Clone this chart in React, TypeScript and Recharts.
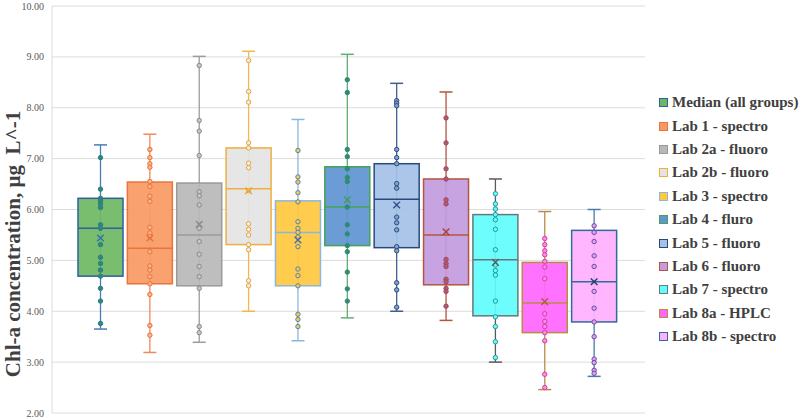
import React from 'react';
import { ComposedChart, Bar, XAxis, YAxis, CartesianGrid, Legend } from 'recharts';

const labs = [
  'Median (all groups)',
  'Lab 1 - spectro',
  'Lab 2a - fluoro',
  'Lab 2b - fluoro',
  'Lab 3 - spectro',
  'Lab 4 - fluro',
  'Lab 5 - fluoro',
  'Lab 6 - fluoro',
  'Lab 7 - spectro',
  'Lab 8a - HPLC',
  'Lab 8b - spectro',
];

const whiskerMin = [3.65, 3.19, 3.39, 4.0, 3.42, 3.87, 4.0, 3.82, 3.0, 2.46, 2.72];
const q1 = [4.69, 4.54, 4.5, 5.31, 4.5, 5.29, 5.25, 4.52, 3.91, 3.58, 3.79];
const medians = [5.63, 5.24, 5.5, 6.41, 5.55, 6.05, 6.2, 5.5, 5.01, 4.16, 4.58];
const q3 = [6.22, 6.54, 6.52, 7.21, 6.17, 6.84, 6.9, 6.6, 5.9, 4.96, 5.59];
const whiskerMax = [7.27, 7.48, 9.01, 9.11, 7.77, 9.05, 8.48, 8.31, 6.6, 5.96, 6.0];
const means = [5.44, 5.44, 5.71, 6.37, 5.4, 6.19, 6.09, 5.56, 4.96, 4.19, 4.58];

const pointsMedian = [7.02, 6.4, 6.22, 6.17, 6.11, 6.04, 5.7, 5.63, 5.31, 5.06, 4.94, 4.81, 4.69, 4.45, 4.2, 3.76];
const pointsLab1 = [7.18, 7.02, 6.9, 6.83, 6.55, 6.45, 6.26, 6.16, 5.65, 5.54, 5.47, 5.17, 4.89, 4.81, 4.68, 4.54, 4.33, 3.72, 3.53];
const pointsLab2a = [8.83, 7.75, 7.54, 7.06, 6.35, 6.27, 6.09, 5.63, 5.37, 5.12, 4.88, 4.68, 4.45, 3.7, 3.58];
const pointsLab2b = [8.93, 8.32, 8.11, 7.31, 7.21, 6.91, 6.82, 6.37, 5.72, 5.61, 5.5, 5.31, 5.21, 4.6, 4.5];
const pointsLab3 = [7.16, 6.64, 6.54, 6.33, 6.15, 5.76, 5.63, 5.55, 5.46, 5.27, 4.83, 4.7, 4.5, 3.94, 3.84, 3.7];
const pointsLab4 = [8.55, 8.3, 7.18, 7.04, 6.8, 6.63, 6.55, 6.05, 5.7, 5.52, 5.29, 5.17, 4.77, 4.44, 4.2];
const pointsLab5 = [8.14, 8.09, 8.04, 7.18, 7.02, 6.9, 6.51, 6.42, 5.85, 5.74, 5.6, 5.27, 5.19, 4.56, 4.42, 4.08];
const pointsLab6 = [7.8, 7.31, 6.8, 6.6, 6.19, 6.11, 5.02, 4.94, 4.88, 4.63, 4.58, 4.45, 4.39, 4.1];
const pointsLab7 = [6.31, 6.11, 6.01, 5.9, 5.8, 5.61, 5.21, 4.91, 4.8, 4.71, 4.2, 3.89, 3.7, 3.4, 3.09];
const pointsLab8a = [5.43, 5.31, 5.19, 5.11, 4.98, 4.87, 4.64, 3.95, 3.8, 3.7, 3.58, 3.42, 2.76, 2.5];
const pointsLab8b = [5.68, 5.55, 5.37, 5.09, 4.88, 4.39, 4.06, 3.79, 3.5, 3.06, 2.99, 2.84, 2.78];

const points = [
  pointsMedian, pointsLab1, pointsLab2a, pointsLab2b, pointsLab3, pointsLab4,
  pointsLab5, pointsLab6, pointsLab7, pointsLab8a, pointsLab8b,
];

const yTicks = [2, 3, 4, 5, 6, 7, 8, 9, 10];

// box fill, box outline, whisker, dot fill, dot outline, mean marker
const styles = [
  { fill: '#6cb862', stroke: '#2f5f9e', whisker: '#4a7bb8', dotFill: '#2e8a78', dotStroke: '#2e7c88', mean: '#3a6db0' },
  { fill: '#f99a64', stroke: '#e9743c', whisker: '#f08a5a', dotFill: '#fbb48a', dotStroke: '#e8723a', mean: '#e8723a' },
  { fill: '#b8b8b8', stroke: '#9a9a9a', whisker: '#9c9c9c', dotFill: '#c6c6c6', dotStroke: '#8a8a8a', mean: '#8a8a8a' },
  { fill: '#e4e4e4', stroke: '#eeae40', whisker: '#f1b850', dotFill: '#efefef', dotStroke: '#e6a435', mean: '#e6a435' },
  { fill: '#ffc83e', stroke: '#8cb6dc', whisker: '#8cb6dc', dotFill: '#ffc83e', dotStroke: '#4f86c0', mean: '#3f70a8' },
  { fill: '#6094d2', stroke: '#45a355', whisker: '#63ad72', dotFill: '#2f8c72', dotStroke: '#2f8c72', mean: '#3f9c58' },
  { fill: '#a5c1e8', stroke: '#284a7a', whisker: '#3f5f8e', dotFill: '#7fa0cc', dotStroke: '#2c4d7e', mean: '#2c4d7e' },
  { fill: '#c29be0', stroke: '#b4553e', whisker: '#b4553e', dotFill: '#a85a78', dotStroke: '#a84a5c', mean: '#a8403a' },
  { fill: '#62fdfd', stroke: '#67777d', whisker: '#5a5a5a', dotFill: '#62fdfd', dotStroke: '#2a9898', mean: '#555f66' },
  { fill: '#ff66ff', stroke: '#b88c44', whisker: '#b88c44', dotFill: '#ff88ee', dotStroke: '#d2409c', mean: '#a8603a' },
  { fill: '#ffb0ff', stroke: '#2f6c9c', whisker: '#4a7ca8', dotFill: '#e0a0f0', dotStroke: '#6a4ca2', mean: '#1f3f6a' },
];

const data = labs.map((lab, i) => ({
  lab,
  i,
  range: [whiskerMin[i], whiskerMax[i]],
  q1: q1[i],
  median: medians[i],
  q3: q3[i],
  mean: means[i],
  points: points[i],
}));

const serif = '"Liberation Serif", "Times New Roman", serif';

function BoxShape(props: any) {
  const { x, y, width, height, payload } = props;
  const st = styles[payload.i];
  const top = Math.min(y, y + height);
  const bot = Math.max(y, y + height);
  const [lo, hi] = payload.range;
  const k = (bot - top) / (hi - lo);
  const py = (v: number) => top + (hi - v) * k;
  const cx = x + width / 2;
  const cap = 6.5;
  const m = 3.3;
  const my = py(payload.mean);

  return (
    <g>
      <line x1={cx} x2={cx} y1={top} y2={bot} stroke={st.whisker} strokeWidth={1.3} />
      <line x1={cx - cap} x2={cx + cap} y1={top} y2={top} stroke={st.whisker} strokeWidth={1.5} />
      <line x1={cx - cap} x2={cx + cap} y1={bot} y2={bot} stroke={st.whisker} strokeWidth={1.5} />
      <rect
        x={x}
        y={py(payload.q3)}
        width={width}
        height={py(payload.q1) - py(payload.q3)}
        fill={st.fill}
        fillOpacity={0.92}
        stroke={st.stroke}
        strokeWidth={1.5}
      />
      <line x1={x} x2={x + width} y1={py(payload.median)} y2={py(payload.median)} stroke={st.stroke} strokeWidth={1.5} />
      {payload.points.map((v: number, j: number) => (
        <circle key={j} cx={cx} cy={py(v)} r={2.2} fill={st.dotFill} stroke={st.dotStroke} strokeWidth={1} />
      ))}
      <line x1={cx - m} x2={cx + m} y1={my - m} y2={my + m} stroke={st.mean} strokeWidth={1.4} />
      <line x1={cx - m} x2={cx + m} y1={my + m} y2={my - m} stroke={st.mean} strokeWidth={1.4} />
    </g>
  );
}

function LegendList() {
  return (
    <div style={{ fontFamily: serif, fontWeight: 'bold', fontSize: 15, color: '#404040' }}>
      {labs.map((l, i) => (
        <div key={l} style={{ height: 23.4, display: 'flex', alignItems: 'center', whiteSpace: 'nowrap' }}>
          <span
            style={{
              display: 'inline-block',
              width: 7,
              height: 7,
              background: styles[i].fill,
              border: `1px solid ${styles[i].stroke}`,
              marginRight: 4,
            }}
          />
          {l}
        </div>
      ))}
    </div>
  );
}

export default function App() {
  return (
    <>
      <style>{'body{margin:0}'}</style>
      <ComposedChart
        width={803}
        height={420}
        data={data}
        margin={{ top: 6, right: 158, bottom: 7, left: 0 }}
        style={{ background: '#fff' }}
      >
        <CartesianGrid vertical={false} stroke="#dcdcdc" />
        <XAxis dataKey="lab" type="category" hide padding={{ left: 24, right: 26 }} />
        <YAxis
          type="number"
          domain={[2, 10]}
          ticks={yTicks}
          width={52}
          tickLine={false}
          axisLine={{ stroke: '#dcdcdc' }}
          tick={{ fontSize: 10, fill: '#595959', fontFamily: serif }}
          tickFormatter={(v: number) => v.toFixed(2)}
          label={{
            content: () => (
              <text
                transform="translate(20,244) rotate(-90)"
                textAnchor="middle"
                fontFamily={serif}
                fontWeight="bold"
                fontSize={21}
                fill="#404040"
              >
                Chl-a concentration, µg{'\u00a0\u00a0'}L^-1
              </text>
            ),
          }}
        />
        <Bar dataKey="range" barSize={45} shape={BoxShape} isAnimationActive={false} />
        <Legend
          layout="vertical"
          align="center"
          verticalAlign="middle"
          content={() => <LegendList />}
          wrapperStyle={{ left: 659, top: 91, width: 144 }}
        />
      </ComposedChart>
    </>
  );
}
